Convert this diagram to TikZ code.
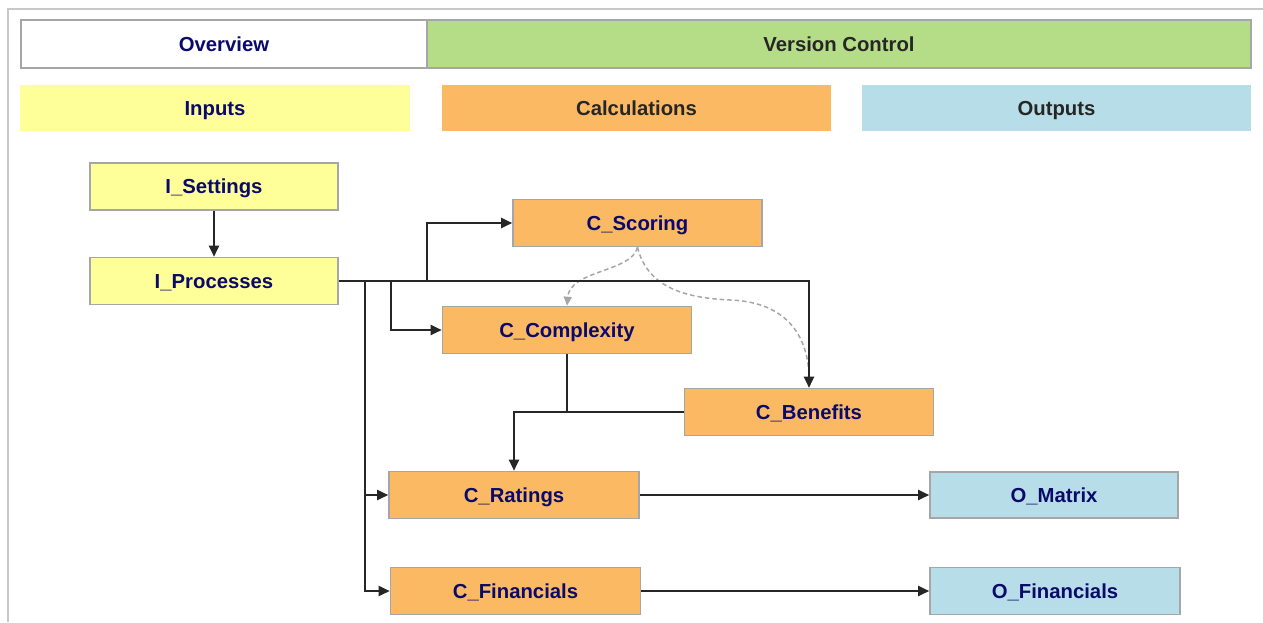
\documentclass[tikz,border=0pt]{standalone}
\usepackage{fontspec}
\setmainfont{Liberation Sans}
\usetikzlibrary{arrows.meta,calc}
\definecolor{navy}{HTML}{0A0A6A}
\definecolor{dark}{HTML}{262626}
\definecolor{bordergrey}{HTML}{A6A6A6}
\definecolor{framegrey}{HTML}{C8C8C8}
\definecolor{inyellow}{HTML}{FFFF99}
\definecolor{calcorange}{HTML}{FBB963}
\definecolor{vcgreen}{HTML}{B5DD88}
\definecolor{outblue}{HTML}{B7DEE8}
\definecolor{dashgrey}{HTML}{A6A6A6}
\tikzset{
  base/.style={inner sep=0pt, anchor=center, font=\fontsize{20.3}{24}\selectfont\bfseries, text=navy, text height=14.5pt, text depth=0pt},
  bordered/.style={base, draw=bordergrey, line width=1.6pt},
  inbox/.style={bordered, fill=inyellow},
  calcbox/.style={bordered, fill=calcorange},
  outbox/.style={bordered, fill=outblue},
  header/.style={base},
  conn/.style={draw=dark, line width=2pt},
  arr/.style={conn, -{Triangle[length=11pt,width=10pt]}},
  dasharr/.style={draw=dashgrey, line width=1.5pt, dash pattern=on 4.5pt off 3pt, -{Triangle[length=9pt,width=8pt]}},
}
\begin{document}
\begin{tikzpicture}[x=1pt,y=-1pt]
\useasboundingbox (0,0) rectangle (1263,622);
% sheet frame
\draw[framegrey, line width=1.5pt] (8,622) -- (8,9) -- (1263,9);
% header row
\node[bordered, fill=white, minimum width=406pt, minimum height=48pt] (overview) at (224,44) {Overview};
\node[bordered, fill=vcgreen, text=dark, minimum width=824pt, minimum height=48pt] (version) at (839,44) {Version Control};
\node[header, fill=inyellow, minimum width=390pt, minimum height=46pt] (inputs) at (215,108) {Inputs};
\node[header, fill=calcorange, text=dark, minimum width=389pt, minimum height=46pt] (calcs) at (636.5,108) {Calculations};
\node[header, fill=outblue, text=dark, minimum width=389pt, minimum height=46pt] (outputs) at (1056.5,108) {Outputs};
% sheets
\node[inbox, minimum width=248pt, minimum height=47pt] (iset) at (214,186.5) {I\_Settings};
\node[inbox, minimum width=248pt, minimum height=47pt] (iproc) at (214,281) {I\_Processes};
\node[calcbox, minimum width=249pt, minimum height=47pt] (cscor) at (637.5,223) {C\_Scoring};
\node[calcbox, minimum width=249pt, minimum height=47pt] (ccomp) at (567,330) {C\_Complexity};
\node[calcbox, minimum width=249pt, minimum height=47pt] (cben) at (809,412) {C\_Benefits};
\node[calcbox, minimum width=250pt, minimum height=47pt] (crat) at (514,495) {C\_Ratings};
\node[calcbox, minimum width=250pt, minimum height=47pt] (cfin) at (515.5,591) {C\_Financials};
\node[outbox, minimum width=248pt, minimum height=46pt] (omat) at (1054,495) {O\_Matrix};
\node[outbox, minimum width=250pt, minimum height=47pt] (ofin) at (1055,591) {O\_Financials};
% junctions
\path (iproc.east) ++(88,0) coordinate (j1) ++(-36,0) coordinate (j2) ++(-26,0) coordinate (j3);
% dashed dependencies
\draw[dasharr] (cscor.south) .. controls (632,272) and (570,270) .. (ccomp.north);
\draw[dasharr] (cscor.south) .. controls (648,290) and (690,298) .. (730,300) .. controls (790,302) and (809,340) .. (cben.north);
% connectors
\draw[arr] (iset) -- (iproc);
\draw[arr] (iproc.east) -| (cben.north);
\draw[arr] (j1) |- (cscor.west);
\draw[arr] (j2) |- (ccomp.west);
\draw[arr] (j3) |- (crat.west);
\draw[arr] (j3) |- (cfin.west);
\draw[conn] (ccomp.south) -- (ccomp.south |- cben.west);
\draw[arr] (cben.west) -| (crat.north);
\draw[arr] (crat.east) -- (omat.west);
\draw[arr] (cfin.east) -- (ofin.west);
\end{tikzpicture}
\end{document}
